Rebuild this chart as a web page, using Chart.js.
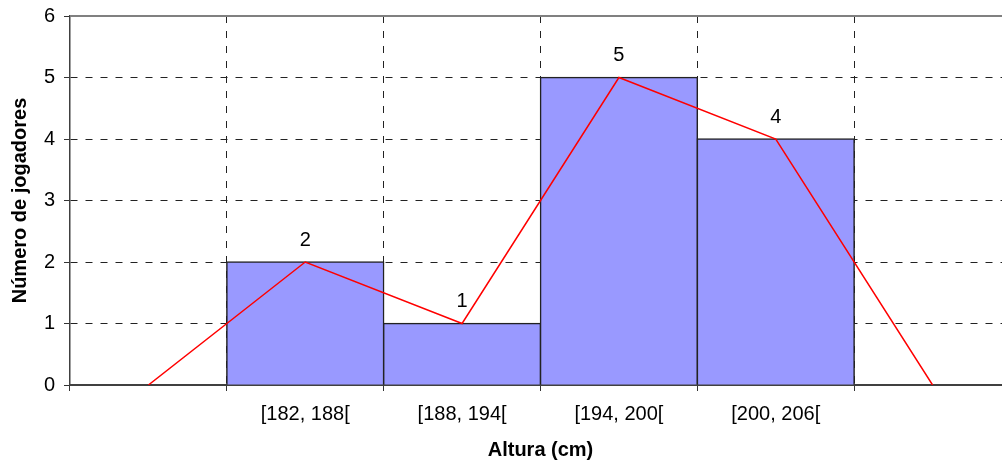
<!DOCTYPE html>
<html>
<head>
<meta charset="utf-8">
<script src="https://cdn.jsdelivr.net/npm/chart.js@4/dist/chart.umd.min.js"></script>
<style>
  html, body { margin: 0; padding: 0; background: #fff; }
  #wrap { width: 1002px; height: 463px; overflow: hidden; }
</style>
</head>
<body>
<div id="wrap"><canvas id="c" width="1012" height="463"></canvas></div>
<script>
// classes de altura (a primeira e a última vazias fecham o polígono)
const categories = ["", "[182, 188[", "[188, 194[", "[194, 200[", "[200, 206[", ""];
const frequencies = [null, 2, 1, 5, 4, null];
const polygon = [0, 2, 1, 5, 4, 0];
const yTicks = [0, 1, 2, 3, 4, 5, 6];

const FONT = "'Liberation Sans', Arial, sans-serif";
const GRID_DASH = [7, 8];

// rótulos de valor por cima das barras
const valueLabels = {
  id: "valueLabels",
  afterDatasetsDraw(chart) {
    const idx = chart.data.datasets.findIndex((d) => d.type === "bar");
    const meta = chart.getDatasetMeta(idx);
    const ctx = chart.ctx;
    ctx.save();
    ctx.font = "20px " + FONT;
    ctx.fillStyle = "#000";
    ctx.textAlign = "center";
    ctx.textBaseline = "middle";
    meta.data.forEach((el, i) => {
      const v = chart.data.datasets[idx].data[i];
      if (v == null) return;
      ctx.fillText(String(v), el.x, el.y - 22);
    });
    ctx.restore();
  },
};

// moldura superior cinzenta da área do gráfico
const topBorder = {
  id: "topBorder",
  beforeDatasetsDraw(chart) {
    const { ctx, chartArea } = chart;
    ctx.save();
    ctx.strokeStyle = "#808080";
    ctx.lineWidth = 2;
    ctx.beginPath();
    ctx.moveTo(chartArea.left, chartArea.top);
    ctx.lineTo(chartArea.right, chartArea.top);
    ctx.stroke();
    ctx.restore();
  },
};

new Chart(document.getElementById("c"), {
  type: "bar",
  data: {
    labels: categories,
    datasets: [
      {
        type: "line",
        label: "Polígono",
        data: polygon,
        borderColor: "#FF0000",
        borderWidth: 1.5,
        pointRadius: 0,
        tension: 0,
        fill: false,
        order: 0,
      },
      {
        type: "bar",
        label: "Jogadores",
        data: frequencies,
        backgroundColor: "#9999FF",
        borderColor: "#222222",
        borderWidth: 1.5,
        inflateAmount: 0.75,
        barPercentage: 1,
        categoryPercentage: 1,
        order: 1,
      },
    ],
  },
  options: {
    responsive: false,
    animation: false,
    devicePixelRatio: 1,
    layout: { padding: { top: 16, right: 1, left: 0, bottom: 0 } },
    plugins: {
      legend: { display: false },
      tooltip: { enabled: false },
    },
    scales: {
      x: {
        offset: true,
        grid: {
          offset: true,
          color: "#222",
          lineWidth: 1,
          tickLength: 6,
          tickColor: "#333",
          tickBorderDash: [],
        },
        // in v4 the grid line dash lives under border
        border: { color: "#404040", width: 2, dash: GRID_DASH },
        ticks: {
          color: "#000",
          font: { family: FONT, size: 20 },
          padding: 11,
          maxRotation: 0,
          autoSkip: false,
        },
        title: {
          display: true,
          text: "Altura (cm)",
          color: "#000",
          font: { family: FONT, size: 20, weight: "bold" },
          padding: { top: 0, bottom: 1 },
        },
        afterFit(scale) {
          scale.height = 78;
        },
      },
      y: {
        min: 0,
        max: 6,
        afterBuildTicks(scale) {
          scale.ticks = yTicks.map((v) => ({ value: v }));
        },
        grid: {
          color: "#222",
          lineWidth: 1,
          tickLength: 6,
          tickColor: "#333",
          tickBorderDash: [],
        },
        border: { color: "#404040", width: 1.5, dash: GRID_DASH },
        ticks: {
          color: "#000",
          font: { family: FONT, size: 20 },
          padding: 9,
        },
        title: {
          display: true,
          text: "Número de jogadores",
          color: "#000",
          font: { family: FONT, size: 20, weight: "bold" },
          padding: { top: 8, bottom: 0 },
        },
        afterFit(scale) {
          scale.width = 70;
          scale.paddingTop = 0;
          scale.paddingBottom = 0;
        },
      },
    },
  },
  plugins: [topBorder, valueLabels],
});
</script>
</body>
</html>
